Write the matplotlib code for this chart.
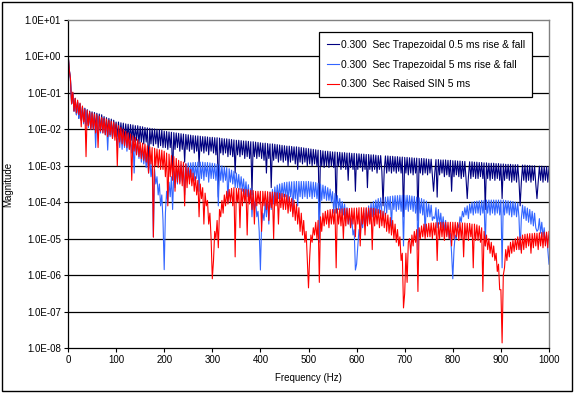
import numpy as np
from matplotlib import pyplot as plt
from matplotlib.patches import Rectangle
from matplotlib.ticker import FixedLocator, FuncFormatter

plt.rcParams['font.family'] = ['Liberation Sans', 'DejaVu Sans']

# log10(magnitude), one sample every 2.5 Hz, 50 Hz per row
step_hz = 2.5

trap_05ms = [
    0.1, -0.35, -0.6, -1.3, -1.0, -1.5, -1.15, -1.6, -1.25, -1.7, -1.3, -1.75, -1.38, -1.8, -1.42, -1.85, -1.46, -1.9, -1.5, -1.95,
    -1.52, -1.95, -1.54, -1.98, -1.56, -2.0, -1.58, -2.05, -1.6, -2.0, -1.65, -2.1, -1.68, -2.1, -1.7, -2.15, -1.72, -2.2, -1.75, -2.15,
    -1.8, -2.2, -1.8, -2.25, -1.82, -2.2, -1.83, -2.3, -1.85, -2.25, -1.86, -2.3, -1.87, -2.3, -1.88, -2.35, -1.9, -2.3, -1.9, -2.4,
    -1.92, -2.35, -1.93, -2.4, -1.95, -2.35, -1.96, -3.0, -1.97, -2.4, -1.98, -2.45, -1.99, -2.4, -2.0, -2.5, -2.01, -2.45, -2.02, -2.5,
    -2.05, -2.5, -2.06, -2.55, -2.07, -2.5, -2.08, -3.3, -2.09, -2.55, -2.1, -2.5, -2.11, -2.6, -2.12, -2.55, -2.13, -2.9, -2.14, -2.55,
    -2.15, -2.6, -2.16, -2.55, -2.17, -2.65, -2.18, -2.6, -2.18, -3.0, -2.19, -2.6, -2.2, -2.65, -2.2, -2.6, -2.21, -2.7, -2.22, -2.6,
    -2.22, -2.65, -2.23, -2.7, -2.23, -3.86, -2.24, -2.65, -2.25, -2.7, -2.26, -2.65, -2.26, -2.75, -2.27, -2.7, -2.28, -2.75, -2.29, -3.2,
    -2.3, -2.7, -2.3, -2.75, -2.31, -2.7, -2.32, -2.8, -2.32, -2.75, -2.33, -2.8, -2.34, -3.8, -2.34, -2.75, -2.35, -2.8, -2.36, -2.75,
    -2.37, -2.8, -2.38, -2.85, -2.38, -3.2, -2.39, -2.8, -2.4, -3.6, -2.4, -2.85, -2.41, -2.8, -2.42, -2.9, -2.43, -2.85, -2.44, -2.9,
    -2.45, -2.85, -2.46, -3.0, -2.46, -2.9, -2.47, -2.85, -2.48, -2.95, -2.48, -3.1, -2.49, -2.9, -2.5, -2.95, -2.51, -2.9, -2.52, -3.0,
    -2.53, -2.95, -2.54, -3.0, -2.55, -2.95, -2.56, -3.0, -2.57, -4.5, -2.58, -3.0, -2.59, -3.05, -2.6, -3.0, -2.6, -3.05, -2.61, -3.0,
    -2.62, -3.05, -2.62, -4.3, -2.63, -3.0, -2.63, -3.1, -2.64, -3.05, -2.64, -3.1, -2.65, -3.4, -2.65, -3.05, -2.66, -3.1, -2.66, -3.7,
    -2.67, -3.1, -2.67, -3.05, -2.68, -3.15, -2.68, -3.1, -2.69, -3.6, -2.69, -3.1, -2.7, -3.15, -2.7, -3.1, -2.71, -3.2, -2.72, -3.1,
    -2.72, -3.15, -4.1, -3.1, -2.73, -3.2, -2.73, -3.15, -2.74, -3.2, -2.74, -3.15, -2.75, -3.2, -2.75, -3.15, -2.76, -3.2, -2.76, -4.4,
    -2.77, -3.2, -2.77, -3.25, -2.78, -3.2, -2.78, -3.25, -2.79, -3.2, -2.79, -4.5, -2.8, -3.2, -2.8, -3.25, -2.8, -3.2, -2.81, -3.25,
    -2.82, -3.2, -2.82, -3.25, -3.7, -3.2, -2.83, -3.86, -2.83, -3.25, -2.84, -3.2, -2.84, -3.3, -2.84, -3.25, -2.85, -3.3, -2.85, -3.7,
    -2.86, -3.3, -2.86, -3.25, -2.87, -3.3, -2.87, -3.35, -2.88, -3.3, -2.88, -3.35, -3.9, -3.3, -2.89, -3.35, -2.89, -3.3, -2.9, -3.35,
    -2.9, -3.35, -2.91, -3.3, -2.91, -3.35, -2.92, -4.2, -2.92, -3.35, -2.93, -3.4, -2.93, -3.35, -2.93, -3.4, -2.94, -3.35, -2.94, -3.4,
    -2.95, -3.9, -2.95, -3.4, -2.96, -3.35, -2.96, -3.4, -2.96, -3.45, -2.97, -3.4, -2.97, -3.45, -2.97, -3.4, -4.1, -3.45, -2.98, -3.4,
    -2.98, -3.45, -2.99, -3.4, -2.99, -3.45, -3.0, -3.4, -3.0, -3.5, -3.9, -3.45, -3.01, -3.4, -3.01, -3.45, -3.02, -3.4, -3.02, -3.45,
    -3.03,
]

trap_5ms = [
    0.1, -0.35, -0.6, -1.3, -1.0, -1.5, -1.15, -1.6, -1.26, -1.7, -1.31, -1.75, -1.4, -1.85, -1.44, -1.9, -1.49, -1.95, -1.53, -2.0,
    -1.57, -2.0, -1.6, -2.5, -1.62, -2.05, -1.65, -2.1, -1.68, -2.1, -1.75, -2.15, -1.79, -2.57, -1.82, -2.2, -1.86, -2.25, -1.92, -2.2,
    -2.0, -2.45, -2.02, -2.5, -2.05, -2.55, -2.08, -2.5, -2.12, -2.6, -2.15, -2.55, -2.2, -2.65, -2.25, -3.2, -2.28, -2.7, -2.33, -2.8,
    -2.45, -2.9, -2.5, -2.95, -2.6, -3.05, -2.7, -3.2, -2.8, -3.3, -2.95, -4.95, -3.1, -3.5, -3.3, -3.8, -3.5, -4.1, -3.8, -4.5,
    -5.85, -4.3, -3.7, -4.0, -3.45, -3.85, -3.3, -4.2, -3.15, -3.6, -3.05, -3.5, -3.0, -3.45, -2.98, -3.4, -2.96, -3.8, -2.94, -3.35,
    -2.92, -3.35, -2.92, -3.3, -2.91, -3.4, -2.91, -3.35, -2.9, -3.7, -2.9, -3.35, -2.9, -3.4, -2.91, -3.3, -2.91, -3.45, -2.92, -3.35,
    -2.93, -3.35, -2.94, -3.4, -2.96, -4.1, -2.98, -3.4, -3.0, -3.45, -3.03, -3.4, -3.05, -4.0, -3.08, -3.45, -3.12, -3.5, -3.15, -3.6,
    -3.2, -3.6, -3.24, -3.65, -3.3, -3.7, -3.36, -3.8, -3.44, -3.85, -3.52, -3.95, -3.62, -4.4, -3.75, -4.2, -3.94, -4.4, -4.25, -4.8,
    -5.86, -4.6, -4.3, -4.5, -4.0, -4.4, -3.85, -4.6, -3.73, -4.2, -3.65, -4.05, -3.58, -3.95, -3.53, -3.9, -3.5, -3.9, -3.48, -3.85,
    -3.46, -3.85, -3.45, -4.0, -3.44, -3.85, -3.44, -4.3, -3.43, -3.9, -3.43, -4.1, -3.43, -3.85, -3.43, -3.9, -3.43, -3.85, -3.43, -3.9,
    -3.43, -3.85, -3.44, -3.9, -3.45, -3.85, -3.46, -3.9, -3.48, -5.1, -3.5, -3.95, -3.53, -3.9, -3.56, -3.95, -3.6, -3.95, -3.64, -4.0,
    -3.71, -4.3, -3.76, -4.15, -3.82, -4.2, -3.9, -4.3, -3.98, -4.35, -4.05, -4.45, -4.15, -4.6, -4.3, -4.7, -4.45, -4.9, -4.75, -5.86,
    -5.7, -5.2, -4.75, -5.0, -4.46, -4.7, -4.3, -4.65, -4.17, -4.6, -4.1, -4.45, -4.03, -4.4, -3.98, -4.35, -3.94, -4.3, -3.9, -4.3,
    -3.88, -4.25, -4.5, -4.25, -3.86, -4.3, -3.85, -4.2, -3.84, -4.7, -3.83, -4.2, -3.82, -4.25, -3.82, -4.2, -3.81, -4.25, -3.81, -5.2,
    -3.81, -4.2, -3.81, -4.25, -3.82, -4.2, -3.83, -4.25, -3.84, -4.3, -3.86, -5.3, -3.88, -4.3, -3.9, -4.35, -3.93, -4.9, -3.97, -4.4,
    -4.04, -4.4, -4.08, -4.5, -4.4, -4.45, -4.15, -4.7, -4.2, -4.6, -4.3, -4.7, -4.4, -4.8, -4.5, -4.9, -4.65, -5.0, -4.85, -5.4,
    -6.1, -5.3, -4.9, -5.0, -4.6, -4.7, -4.4, -4.55, -4.25, -4.4, -4.15, -4.35, -4.1, -4.45, -4.05, -4.3, -4.0, -4.35, -3.98, -4.3,
    -3.97, -4.3, -3.96, -4.35, -3.95, -4.3, -3.95, -5.2, -3.94, -4.3, -3.94, -4.35, -3.94, -4.3, -3.94, -4.35, -3.94, -4.3, -3.94, -4.35,
    -3.94, -5.8, -3.94, -4.35, -3.95, -4.3, -3.96, -4.35, -3.97, -4.4, -3.98, -4.35, -4.0, -4.4, -4.02, -4.4, -5.3, -4.45, -4.08, -4.45,
    -4.12, -4.5, -4.16, -4.55, -4.2, -4.6, -4.25, -4.65, -4.3, -4.7, -4.8, -4.75, -4.45, -4.85, -4.55, -4.95, -4.7, -5.1, -4.9, -5.3,
    -5.7,
]

raised_sin = [
    0.12, -0.35, -0.6, -1.3, -0.98, -1.5, -1.15, -1.55, -1.2, -1.6, -1.28, -1.93, -1.36, -1.8, -1.45, -2.75, -1.48, -1.9, -1.52, -2.0,
    -1.55, -2.0, -1.58, -2.1, -1.6, -2.5, -1.64, -2.05, -1.67, -2.1, -1.7, -2.15, -1.72, -2.2, -1.75, -2.15, -1.78, -2.25, -1.8, -2.3,
    -1.85, -3.0, -1.9, -2.35, -1.95, -2.4, -2.0, -2.45, -2.05, -2.5, -2.1, -2.55, -2.13, -3.4, -2.18, -2.6, -2.22, -2.7, -2.28, -2.75,
    -2.35, -2.8, -2.38, -2.85, -2.4, -2.9, -2.45, -3.2, -2.48, -2.95, -2.5, -4.96, -2.52, -3.0, -2.54, -3.05, -2.56, -3.1, -2.57, -3.1,
    -2.6, -3.3, -2.65, -4.1, -2.68, -3.3, -2.72, -3.4, -2.75, -3.7, -2.8, -3.45, -2.85, -3.5, -2.88, -3.55, -2.9, -4.1, -2.95, -3.6,
    -3.05, -3.5, -3.1, -3.55, -3.2, -3.7, -3.3, -3.8, -3.4, -4.4, -3.5, -3.9, -3.6, -4.6, -3.75, -4.1, -3.95, -4.6, -4.3, -5.0,
    -6.1, -5.6, -4.8, -5.0, -4.5, -5.25, -4.2, -4.4, -3.95, -4.3, -3.8, -4.1, -3.7, -4.05, -3.65, -4.0, -3.62, -4.1, -3.6, -5.5,
    -3.62, -4.0, -3.62, -4.7, -3.63, -4.1, -3.64, -4.0, -3.65, -4.9, -3.66, -4.05, -3.67, -4.2, -3.68, -4.6, -3.7, -4.1, -3.7, -4.05,
    -3.7, -4.8, -3.7, -4.1, -3.7, -4.2, -3.71, -4.5, -3.72, -4.15, -3.72, -5.0, -3.73, -4.1, -3.74, -4.6, -3.75, -4.15, -3.76, -4.2,
    -3.78, -4.2, -3.8, -4.3, -3.85, -4.25, -3.9, -4.4, -3.95, -4.5, -4.05, -4.6, -4.15, -4.8, -4.3, -4.9, -4.5, -5.1, -4.8, -5.6,
    -6.35, -5.5, -4.9, -5.1, -4.7, -4.9, -4.55, -5.0, -4.5, -6.2, -4.4, -4.8, -4.3, -4.65, -4.25, -4.6, -4.22, -4.7, -4.2, -4.6,
    -4.2, -4.6, -4.2, -5.8, -4.18, -4.6, -4.18, -4.65, -4.18, -5.0, -4.17, -4.65, -4.17, -4.6, -4.17, -4.7, -4.16, -4.6, -4.16, -4.95,
    -4.16, -4.6, -4.15, -5.2, -4.15, -4.6, -4.15, -4.9, -4.15, -4.65, -4.16, -4.6, -4.16, -5.3, -4.17, -4.65, -4.18, -4.6, -4.2, -4.7,
    -4.22, -4.65, -4.25, -4.7, -4.3, -4.8, -4.35, -4.85, -4.42, -4.9, -4.5, -5.0, -4.6, -5.1, -4.75, -5.2, -4.95, -5.6, -5.4, -6.9,
    -6.5, -5.4, -6.2, -5.1, -5.0, -5.4, -4.9, -5.2, -4.8, -5.1, -4.75, -6.45, -4.7, -5.0, -4.65, -4.95, -4.6, -5.0, -4.6, -4.95,
    -4.58, -4.95, -4.57, -5.0, -4.57, -4.9, -4.56, -5.6, -4.56, -5.0, -4.55, -4.95, -4.55, -5.05, -4.55, -4.95, -4.55, -5.0, -4.55, -5.2,
    -4.55, -5.0, -4.55, -4.95, -4.56, -5.05, -4.56, -5.0, -4.57, -5.5, -4.57, -5.0, -4.58, -5.05, -4.58, -4.95, -4.6, -5.8, -4.6, -5.05,
    -4.62, -5.05, -4.65, -5.1, -4.7, -6.45, -4.8, -5.2, -4.9, -5.3, -5.0, -5.4, -5.1, -5.5, -5.2, -5.6, -5.4, -5.9, -5.7, -6.4,
    -6.4, -7.86, -6.0, -5.8, -5.3, -5.6, -5.2, -5.5, -5.1, -5.4, -5.05, -5.35, -5.0, -5.3, -4.95, -5.3, -4.95, -5.4, -4.9, -5.3,
    -4.88, -5.25, -4.87, -5.2, -4.86, -5.4, -4.86, -5.25, -4.85, -5.2, -4.85, -5.3, -4.84, -5.2, -4.83, -5.25, -4.82, -5.2, -4.82, -5.25,
    -4.8,
]

labels = ['0.300  Sec Trapezoidal 0.5 ms rise & fall',
          '0.300  Sec Trapezoidal 5 ms rise & fall',
          '0.300  Sec Raised SIN 5 ms']
colors = ['#000080', '#3366FF', '#FF0000']
decades = list(range(-8, 2))
x_ticks = list(range(0, 1001, 100))

fig = plt.figure(figsize=(5.77, 3.96), dpi=100)
ax = fig.add_axes([68 / 577, 48 / 396, 481 / 577, 328 / 396])

for series, name, col in zip([trap_05ms, trap_5ms, raised_sin], labels, colors):
    vals = np.array(series)
    freq = np.arange(len(vals)) * step_hz
    ax.plot(freq, 10.0 ** vals, color=col, lw=0.8, label=name)

ax.set_yscale('log')
ax.set_xlim(0, 1000)
ax.set_ylim(1e-8, 1e1)

# gridlines on the inner decades, the outer ones are the frame
for d in decades[1:-1]:
    ax.axhline(10.0 ** d, color='black', lw=0.9, zorder=0)

ax.yaxis.set_major_locator(FixedLocator([10.0 ** d for d in decades]))
ax.yaxis.set_minor_locator(FixedLocator([]))
ax.yaxis.set_major_formatter(FuncFormatter(lambda v, p: '1.0E%+03d' % int(round(np.log10(v)))))
ax.set_xticks(x_ticks)
ax.tick_params(axis='both', labelsize=7, length=3, width=0.8, direction='out', pad=2)

for side in ['top', 'right']:
    ax.spines[side].set_color('#808080')
    ax.spines[side].set_linewidth(1)
for side in ['left', 'bottom']:
    ax.spines[side].set_linewidth(0.9)

ax.set_xlabel('Frequency (Hz)', fontsize=7, labelpad=6)
ax.set_ylabel('Magnitude', fontsize=7, labelpad=8)

leg = ax.legend(loc='upper left', bbox_to_anchor=(0.522, 0.963), fontsize=7.4,
                frameon=True, fancybox=False, framealpha=1, edgecolor='black',
                handlelength=1.2, handletextpad=0.15, labelspacing=0.95,
                borderpad=0.75, borderaxespad=0)
leg.get_frame().set_linewidth(0.9)

fig.patches.append(Rectangle((2 / 577, 5 / 396), 570 / 577, 389 / 396,
                             transform=fig.transFigure, fill=False,
                             edgecolor='black', lw=1))

plt.savefig('out.png', dpi=100)
